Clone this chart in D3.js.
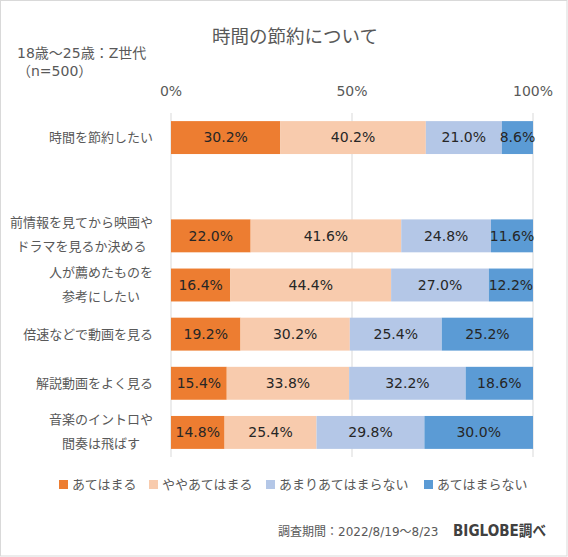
<!DOCTYPE html>
<head>
    <meta charset="utf-8">
    <style>
        body { margin: 0; background: #fff; }
        svg { display: block; }
        text { font-family: "DejaVu Sans", "Noto Sans CJK JP", sans-serif; }
        text.jp { font-family: "Noto Sans CJK JP", sans-serif; }
    </style>
</head>
<body>
    <script src="https://d3js.org/d3.v7.min.js"></script>
    <script>
        const w = 568, h = 557;

        // data
        const categories = [
            ['時間を節約したい'],
            [],
            ['前情報を見てから映画や', 'ドラマを見るか決める'],
            ['人が薦めたものを', '参考にしたい'],
            ['倍速などで動画を見る'],
            ['解説動画をよく見る'],
            ['音楽のイントロや', '間奏は飛ばす']
        ];
        const seriesNames = ['あてはまる', 'ややあてはまる', 'あまりあてはまらない', 'あてはまらない'];
        const seriesColors = ['#ED7D31', '#F8CBAD', '#B4C7E7', '#5B9BD5'];
        const values = [
            [30.2, 40.2, 21.0, 8.6],
            null,
            [22.0, 41.6, 24.8, 11.6],
            [16.4, 44.4, 27.0, 12.2],
            [19.2, 30.2, 25.4, 25.2],
            [15.4, 33.8, 32.2, 18.6],
            [14.8, 25.4, 29.8, 30.0]
        ];
        const xTicks = [0, 50, 100];

        const svg = d3.select('body')
                      .append('svg')
                      .attr('width', w)
                      .attr('height', h);

        svg.append('rect')
           .attr('x', 0.5).attr('y', 0.5)
           .attr('width', w - 1.5).attr('height', h - 1.5)
           .attr('fill', '#fff')
           .attr('stroke', '#d9d9d9');

        const x = d3.scaleLinear().domain([0, 100]).range([171, 533]);
        const y = d3.scaleBand()
                    .domain(d3.range(categories.length))
                    .range([113, 457])
                    .paddingInner(0.33)
                    .paddingOuter(0.165);

        // gridlines
        svg.selectAll('line.grid')
           .data(xTicks)
           .enter()
           .append('line')
           .attr('x1', d => x(d)).attr('x2', d => x(d))
           .attr('y1', 113).attr('y2', 457)
           .attr('stroke', '#d9d9d9')
           .attr('stroke-width', 1);

        // tick labels on top
        svg.selectAll('text.tick')
           .data(xTicks)
           .enter()
           .append('text')
           .attr('x', d => x(d))
           .attr('y', 91)
           .attr('dy', '0.35em')
           .attr('text-anchor', 'middle')
           .attr('font-size', 14)
           .attr('fill', '#595959')
           .text(d => d + '%');

        // stacked bars
        const rows = values.map((v, i) => ({ i, v })).filter(r => r.v);
        rows.forEach(r => {
            let acc = 0;
            const segs = r.v.map((val, k) => {
                const s = { k, x0: acc, x1: acc + val, val };
                acc += val;
                return s;
            });
            const g = svg.append('g');
            g.selectAll('rect')
             .data(segs)
             .enter()
             .append('rect')
             .attr('x', d => x(d.x0))
             .attr('width', d => x(d.x1) - x(d.x0))
             .attr('y', y(r.i))
             .attr('height', y.bandwidth())
             .attr('fill', d => seriesColors[d.k]);
            g.selectAll('text')
             .data(segs)
             .enter()
             .append('text')
             .attr('x', d => (x(d.x0) + x(d.x1)) / 2)
             .attr('y', y(r.i) + y.bandwidth() / 2)
             .attr('dy', '0.35em')
             .attr('text-anchor', 'middle')
             .attr('font-size', 14)
             .attr('fill', '#262626')
             .text(d => d.val.toFixed(1) + '%');
        });

        // category labels (multi-line blocks are centred, block right aligned)
        const labelRight = 153;
        categories.forEach((lines, i) => {
            if (!lines.length) return;
            const cy = y(i) + y.bandwidth() / 2;
            const t = svg.append('g');
            const texts = lines.map((s, j) =>
                t.append('text')
                 .attr('class', 'jp')
                 .attr('y', lines.length === 1 ? cy : cy + (j === 0 ? -13 : 11))
                 .attr('dy', '0.35em')
                 .attr('font-size', 13)
                 .attr('fill', '#595959')
                 .text(s));
            const maxW = d3.max(texts, tx => tx.node().getComputedTextLength());
            texts.forEach(tx => tx.attr('x', labelRight - maxW / 2).attr('text-anchor', 'middle'));
        });

        // title and subtitle
        svg.append('text')
           .attr('class', 'jp')
           .attr('x', 295).attr('y', 37).attr('dy', '0.35em')
           .attr('text-anchor', 'middle')
           .attr('font-size', 18.5)
           .attr('fill', '#595959')
           .text('時間の節約について');
        svg.append('text')
           .attr('x', 17).attr('y', 53).attr('dy', '0.35em')
           .attr('font-size', 14)
           .attr('fill', '#595959')
           .text('18歳〜25歳：Z世代');
        svg.append('text')
           .attr('x', 17).attr('y', 71).attr('dy', '0.35em')
           .attr('font-size', 14)
           .attr('fill', '#595959')
           .text('（n=500）');

        // legend
        const legendX = [59, 149, 266, 424];
        seriesNames.forEach((name, k) => {
            svg.append('rect')
               .attr('x', legendX[k]).attr('y', 480)
               .attr('width', 9).attr('height', 9)
               .attr('fill', seriesColors[k]);
            svg.append('text')
               .attr('class', 'jp')
               .attr('x', legendX[k] + 13).attr('y', 484.5).attr('dy', '0.35em')
               .attr('font-size', 13)
               .attr('fill', '#595959')
               .text(name);
        });

        // footer
        svg.append('text')
           .attr('x', 278).attr('y', 532).attr('dy', '0.35em')
           .attr('font-size', 12)
           .attr('fill', '#595959')
           .text('調査期間：2022/8/19〜8/23');
        svg.append('text')
           .attr('x', 453).attr('y', 531).attr('dy', '0.35em')
           .attr('font-size', 15)
           .attr('font-weight', 'bold')
           .attr('fill', '#404040')
           .attr('textLength', 93)
           .attr('lengthAdjust', 'spacingAndGlyphs')
           .text('BIGLOBE調べ');
    </script>
</body>
